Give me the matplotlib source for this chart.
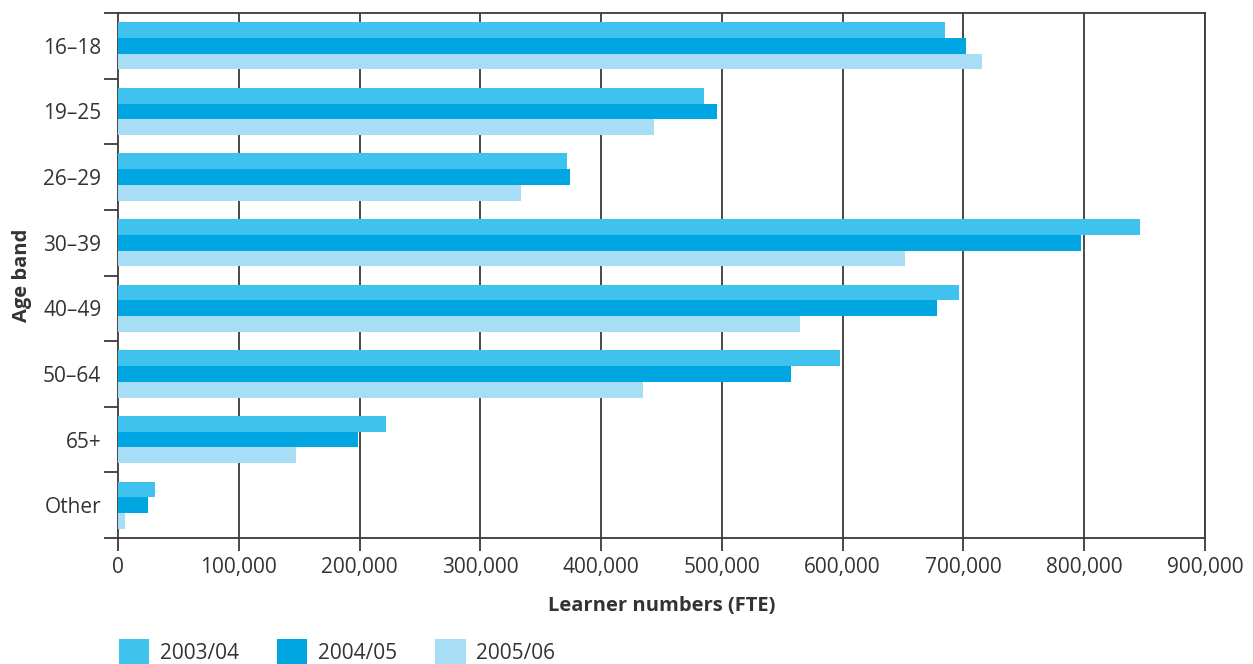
import numpy as np
import matplotlib.pyplot as plt
from matplotlib.patches import Patch
from matplotlib.ticker import FuncFormatter

plt.rcParams['font.family'] = ['Open Sans', 'DejaVu Sans']

# --- Data ---
age_bands = ["16–18", "19–25", "26–29", "30–39", "40–49", "50–64", "65+", "Other"]
years = ["2003/04", "2004/05", "2005/06"]
learners_0304 = [685000, 485000, 372000, 846000, 696000, 598000, 222000, 31000]
learners_0405 = [702000, 496000, 374000, 797000, 678000, 557000, 199000, 25000]
learners_0506 = [715000, 444000, 334000, 652000, 565000, 435000, 147000, 6000]
x_ticks = [0, 100000, 200000, 300000, 400000, 500000, 600000, 700000, 800000, 900000]

COLORS = ["#40C2EE", "#00A6E2", "#A8DEF5"]
TXT = "#333333"
LINE = "#3a3a3a"

fig = plt.figure(figsize=(12.53, 6.64), dpi=100)
ax = fig.add_axes([118 / 1253, 1 - 538 / 664, (1205 - 118) / 1253, (538 - 13) / 664])

y = np.arange(len(age_bands))
bar_h = 0.24
series = [learners_0304, learners_0405, learners_0506]
for i, (vals, col) in enumerate(zip(series, COLORS)):
    ax.barh(y + (i - 1) * bar_h, vals, height=bar_h, color=col, zorder=3, linewidth=0)

ax.set_xlim(0, 900000)
ax.set_ylim(len(age_bands) - 0.5, -0.5)

# gridlines
for xv in x_ticks[1:]:
    ax.axvline(xv, color=LINE, lw=1.3, zorder=1)

# ticks
ax.set_yticks(y)
ax.set_yticklabels(age_bands)
ax.set_yticks(np.arange(len(age_bands) + 1) - 0.5, minor=True)
ax.tick_params(axis='y', which='major', length=0, pad=12, labelsize=15, labelcolor=TXT)
ax.tick_params(axis='y', which='minor', length=10, width=1.3, color=LINE)
ax.set_xticks(x_ticks)
ax.xaxis.set_major_formatter(FuncFormatter(lambda v, p: f"{int(v):,}"))
ax.tick_params(axis='x', length=9, width=1.3, color=LINE, pad=5, labelsize=15, labelcolor=TXT)

for s in ax.spines.values():
    s.set_color(LINE)
    s.set_linewidth(1.3)

ax.set_xlabel("Learner numbers (FTE)", fontsize=14.5, fontweight='bold', color=TXT, labelpad=13)
ax.set_ylabel("Age band", fontsize=14.5, fontweight='bold', color=TXT, labelpad=8)

handles = [Patch(facecolor=c, edgecolor='none', label=l) for c, l in zip(COLORS, years)]
fig.legend(handles=handles, loc='lower left', bbox_to_anchor=(119 / 1253, 0.0), ncol=3,
           frameon=False, fontsize=15, handlelength=1.45, handleheight=1.45,
           handletextpad=0.5, columnspacing=1.85, borderpad=0, borderaxespad=0,
           labelcolor=TXT)

fig.savefig("out.png", dpi=100)
